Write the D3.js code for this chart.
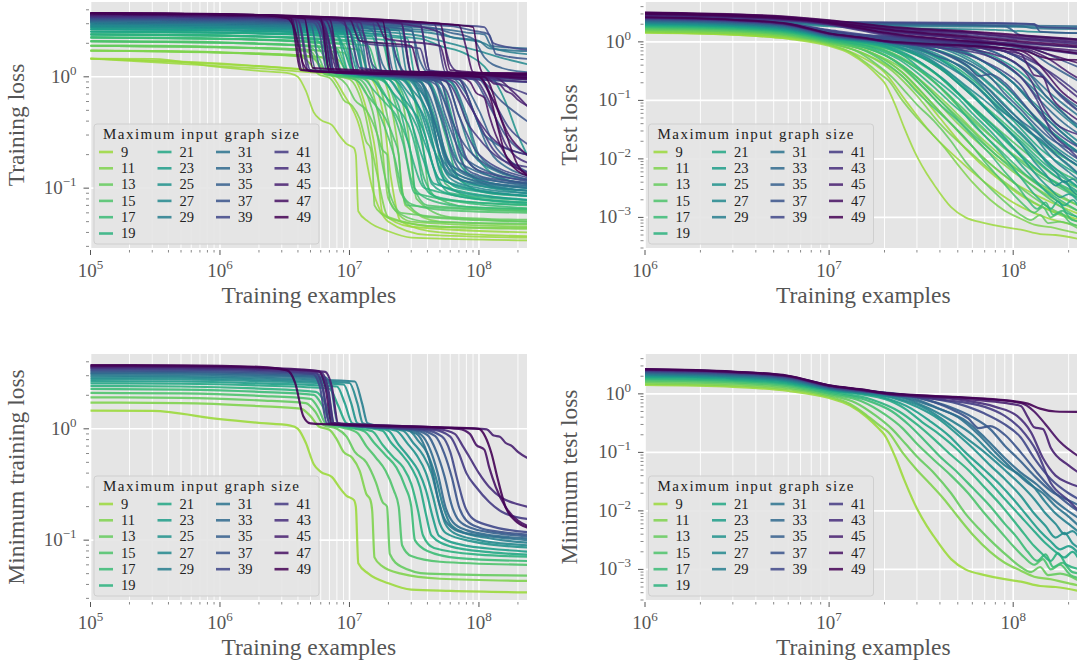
<!DOCTYPE html>
<html><head><meta charset="utf-8">
<script src="https://cdn.jsdelivr.net/npm/d3@7"></script>
<style>
body{margin:0;background:#fff}
svg{display:block}
text{font-family:"Liberation Serif","Times New Roman",serif}
</style>
</head><body>
<svg id="c" width="1077" height="666"></svg>
<script>
// ---------------- DATA ----------------
const sizes = [9,11,13,15,17,19,21,23,25,27,29,31,33,35,37,39,41,43,45,47,49];
const legendTitle = "Maximum input graph size";
const xLabel = "Training examples";
const yLabels = ["Training loss","Test loss","Minimum training loss","Minimum test loss"];
const xDomainLeft = [1e5, 2.35e8];
const xDomainRight = [1e6, 2.35e8];
const yDomainLeft = [0.029, 4.7];
const yDomainRight = [3e-4, 4.8];

// Minimum training loss, one curve per size: [training examples, loss]
const minTrainLoss = [
 [[1e5,1.46],[3e5,1.45],[1e6,1.22],[2e6,1.13],[3.5e6,1.07],[4e6,1.0],[4.6e6,0.75],[5.3e6,0.48],[6e6,0.41],[7.3e6,0.37],[8.5e6,0.29],[9.5e6,0.25],[1.08e7,0.23],[1.12e7,0.2],[1.17e7,0.062],[1.4e7,0.05],[2e7,0.041],[3e7,0.036],[6e7,0.035],[2.35e8,0.034]],
 [[1e5,1.72],[5e5,1.7],[2e6,1.6],[4.2e6,1.52],[5e6,1.3],[5.8e6,1.05],[7e6,0.98],[8e6,0.8],[9e6,0.62],[1.05e7,0.55],[1.2e7,0.42],[1.35e7,0.26],[1.45e7,0.23],[1.5e7,0.18],[1.56e7,0.07],[1.8e7,0.058],[2.5e7,0.05],[5e7,0.045],[2.35e8,0.043]],
 [[1e5,1.92],[5e5,1.9],[2e6,1.8],[4.6e6,1.7],[5.5e6,1.4],[6.3e6,1.08],[8e6,1.0],[9.5e6,0.85],[1.1e7,0.62],[1.35e7,0.5],[1.6e7,0.33],[1.8e7,0.22],[1.95e7,0.2],[2.05e7,0.075],[2.5e7,0.058],[4e7,0.05],[2.35e8,0.048]],
 [[1e5,2.1],[5e5,2.08],[2e6,1.98],[5e6,1.86],[5.8e6,1.5],[6.6e6,1.1],[9e6,1.02],[1.15e7,0.92],[1.35e7,0.7],[1.6e7,0.55],[1.9e7,0.42],[2.2e7,0.28],[2.4e7,0.2],[2.55e7,0.09],[3e7,0.072],[5e7,0.064],[2.35e8,0.06]],
 [[1e5,2.28],[5e5,2.25],[2e6,2.15],[5.3e6,2.02],[6.2e6,1.6],[7.2e6,1.12],[1e7,1.02],[1.3e7,0.95],[1.55e7,0.75],[1.9e7,0.58],[2.3e7,0.45],[2.7e7,0.3],[3e7,0.2],[3.2e7,0.1],[4e7,0.08],[7e7,0.069],[2.35e8,0.065]],
 [[1e5,2.42],[5e5,2.4],[2e6,2.3],[5.5e6,2.15],[6.5e6,1.7],[7.5e6,1.12],[1.1e7,1.02],[1.5e7,0.95],[1.8e7,0.72],[2.2e7,0.55],[2.6e7,0.45],[3e7,0.32],[3.4e7,0.18],[3.7e7,0.11],[4.5e7,0.085],[1e8,0.074],[2.35e8,0.071]],
 [[1e5,2.56],[5e5,2.54],[2e6,2.45],[7e6,2.3],[8.2e6,1.6],[9.5e6,1.12],[1.3e7,1.03],[1.8e7,0.96],[2.1e7,0.75],[2.5e7,0.6],[3e7,0.45],[3.5e7,0.3],[3.9e7,0.17],[4.3e7,0.11],[6e7,0.088],[1.2e8,0.078],[2.35e8,0.074]],
 [[1e5,2.68],[5e5,2.66],[2e6,2.56],[8e6,2.4],[9.2e6,1.7],[1.05e7,1.12],[1.5e7,1.03],[2e7,0.96],[2.4e7,0.72],[2.9e7,0.55],[3.4e7,0.42],[3.9e7,0.28],[4.4e7,0.16],[4.9e7,0.11],[7e7,0.092],[1.5e8,0.082],[2.35e8,0.079]],
 [[1e5,2.8],[5e5,2.78],[2e6,2.68],[9e6,2.5],[1.03e7,1.7],[1.15e7,1.12],[1.6e7,1.03],[2.3e7,0.96],[2.8e7,0.74],[3.3e7,0.58],[3.9e7,0.4],[4.4e7,0.25],[5e7,0.14],[5.6e7,0.115],[9e7,0.097],[2.35e8,0.086]],
 [[1e5,2.9],[5e5,2.88],[2e6,2.78],[1e7,2.58],[1.15e7,1.7],[1.27e7,1.12],[1.8e7,1.03],[2.6e7,0.96],[3.1e7,0.75],[3.7e7,0.58],[4.3e7,0.4],[4.9e7,0.22],[5.5e7,0.14],[6.5e7,0.115],[1e8,0.1],[2.35e8,0.09]],
 [[1e5,3.0],[5e5,2.98],[2e6,2.88],[1.1e7,2.66],[1.25e7,1.7],[1.38e7,1.12],[2e7,1.03],[2.9e7,0.96],[3.4e7,0.78],[4e7,0.6],[4.6e7,0.38],[5.3e7,0.2],[6e7,0.14],[7.5e7,0.118],[1.2e8,0.104],[2.35e8,0.095]],
 [[1e5,3.1],[5e5,3.08],[2e6,2.98],[6e6,2.85],[6.8e6,2.2],[7.6e6,1.12],[1.2e7,1.05],[2.5e7,1.0],[3.3e7,0.9],[3.8e7,0.7],[4.3e7,0.45],[4.9e7,0.22],[5.5e7,0.15],[7e7,0.12],[1.2e8,0.108],[2.35e8,0.1]],
 [[1e5,3.18],[5e5,3.16],[2e6,3.06],[6.5e6,2.9],[7.3e6,2.2],[8.1e6,1.12],[1.3e7,1.05],[2.8e7,1.0],[3.6e7,0.88],[4.2e7,0.65],[4.8e7,0.4],[5.5e7,0.2],[6.3e7,0.145],[8e7,0.123],[1.3e8,0.11],[2.35e8,0.104]],
 [[1e5,3.26],[5e5,3.24],[2e6,3.14],[5.5e6,3.0],[6.2e6,2.3],[7e6,1.12],[1.2e7,1.05],[3e7,0.99],[4e7,0.88],[4.7e7,0.62],[5.4e7,0.38],[6.2e7,0.2],[7e7,0.15],[9e7,0.127],[1.4e8,0.115],[2.35e8,0.108]],
 [[1e5,3.34],[5e5,3.32],[2e6,3.22],[6e6,3.06],[6.7e6,2.3],[7.5e6,1.12],[1.3e7,1.05],[3.4e7,0.98],[4.6e7,0.86],[5.4e7,0.6],[6.2e7,0.36],[7e7,0.2],[8e7,0.15],[1e8,0.13],[1.5e8,0.118],[2.35e8,0.112]],
 [[1e5,3.42],[5e5,3.4],[2e6,3.3],[5.2e6,3.12],[5.9e6,2.4],[6.7e6,1.12],[1.2e7,1.05],[3.8e7,0.98],[5.2e7,0.85],[6e7,0.62],[6.8e7,0.35],[7.8e7,0.2],[9e7,0.155],[1.2e8,0.135],[2.35e8,0.118]],
 [[1e5,3.5],[5e5,3.48],[2e6,3.38],[5.5e6,3.18],[6.2e6,2.4],[7e6,1.12],[1.3e7,1.06],[4.5e7,0.98],[6e7,0.85],[7e7,0.6],[8e7,0.4],[9.5e7,0.3],[1.2e8,0.22],[1.5e8,0.18],[2.35e8,0.155]],
 [[1e5,3.56],[5e5,3.54],[2e6,3.44],[6e6,3.22],[6.8e6,2.4],[7.6e6,1.12],[1.5e7,1.06],[5e7,0.99],[6.5e7,0.9],[7.5e7,0.7],[8.5e7,0.55],[1e8,0.4],[1.2e8,0.3],[1.5e8,0.24],[2e8,0.21],[2.35e8,0.2]],
 [[1e5,3.62],[5e5,3.6],[2e6,3.5],[6.5e6,3.25],[7.3e6,2.4],[8.2e6,1.12],[2e7,1.07],[6e7,1.02],[1e8,1.0],[1.15e8,0.99],[1.3e8,0.87],[1.45e8,0.85],[1.6e8,0.75],[1.8e8,0.7],[2e8,0.62],[2.35e8,0.55]],
 [[1e5,3.68],[5e5,3.66],[2e6,3.55],[5.8e6,3.3],[6.5e6,2.4],[7.3e6,1.12],[2e7,1.07],[7e7,1.0],[8.5e7,0.9],[9.5e7,0.72],[1.1e8,0.65],[1.2e8,0.45],[1.35e8,0.3],[1.6e8,0.2],[2e8,0.15],[2.35e8,0.135]],
 [[1e5,3.74],[5e5,3.72],[2e6,3.6],[3.3e6,3.35],[3.8e6,2.6],[4.4e6,1.3],[5e6,1.12],[1e7,1.08],[5e7,1.03],[1e8,1.0],[1.12e8,0.85],[1.25e8,0.6],[1.4e8,0.35],[1.6e8,0.2],[1.9e8,0.15],[2.35e8,0.13]]
];

// Further training-loss runs per size
const trainLossRuns = [
 [[[1e5,1.46],[1e6,1.25],[4e6,1.12],[7e6,1.05],[9e6,0.7],[1.2e7,0.35],[1.5e7,0.1],[2e7,0.05],[4e7,0.038],[2.35e8,0.036]],
  [[1e5,1.46],[1e6,1.3],[5e6,1.15],[1e7,1.05],[1.3e7,0.6],[1.6e7,0.2],[1.8e7,0.06],[3e7,0.045],[2.35e8,0.04]],
  [[1e5,1.46],[1e6,1.32],[7e6,1.1],[1.4e7,1.0],[1.8e7,0.5],[2.1e7,0.12],[2.5e7,0.05],[5e7,0.04],[2.35e8,0.037]]],
 [[[1e5,1.72],[2e6,1.6],[5e6,1.5],[7e6,1.05],[1e7,0.95],[1.3e7,0.5],[1.6e7,0.15],[2e7,0.055],[5e7,0.045],[2.35e8,0.044]],
  [[1e5,1.72],[2e6,1.62],[6e6,1.5],[8e6,1.05],[1.3e7,0.98],[1.7e7,0.4],[2e7,0.08],[3e7,0.05],[2.35e8,0.045]],
  [[1e5,1.72],[2e6,1.62],[8e6,1.45],[1e7,1.05],[1.8e7,0.95],[2.3e7,0.3],[2.7e7,0.07],[5e7,0.05],[2.35e8,0.047]]],
 [[[1e5,1.9],[2e6,1.8],[5e6,1.7],[6.5e6,1.05],[1.1e7,0.95],[1.5e7,0.5],[1.9e7,0.12],[2.5e7,0.06],[2.35e8,0.05]],
  [[1e5,1.9],[2e6,1.82],[7e6,1.68],[9e6,1.05],[1.6e7,0.95],[2e7,0.4],[2.5e7,0.09],[4e7,0.055],[2.35e8,0.05]],
  [[1e5,1.9],[2e6,1.82],[9e6,1.65],[1.1e7,1.05],[2.2e7,0.95],[2.8e7,0.35],[3.3e7,0.08],[6e7,0.055],[2.35e8,0.052]]],
 [[[1e5,2.08],[2e6,1.98],[6e6,1.85],[7e6,1.05],[1.2e7,0.95],[1.6e7,0.55],[2.2e7,0.2],[2.8e7,0.07],[2.35e8,0.062]],
  [[1e5,2.08],[2e6,1.98],[8e6,1.8],[1e7,1.05],[1.8e7,0.95],[2.4e7,0.45],[3e7,0.12],[4e7,0.07],[2.35e8,0.063]],
  [[1e5,2.08],[2e6,2.0],[1.2e7,1.75],[1.4e7,1.05],[2.8e7,0.92],[3.6e7,0.3],[4.2e7,0.09],[8e7,0.068],[2.35e8,0.065]]],
 [[[1e5,2.25],[2e6,2.15],[6e6,2.0],[8e6,1.05],[1.5e7,0.95],[2e7,0.6],[2.6e7,0.25],[3.2e7,0.09],[2.35e8,0.066]],
  [[1e5,2.25],[2e6,2.16],[9e6,1.95],[1.1e7,1.05],[2.2e7,0.95],[3e7,0.4],[3.8e7,0.12],[5e7,0.08],[2.35e8,0.07]],
  [[1e5,2.25],[2e6,2.17],[1.4e7,1.9],[1.7e7,1.05],[3.5e7,0.92],[4.5e7,0.35],[5.5e7,0.11],[1e8,0.08],[2.35e8,0.075]]],
 [[[1e5,2.4],[2e6,2.3],[7e6,2.15],[9e6,1.05],[1.7e7,0.95],[2.4e7,0.55],[3e7,0.2],[3.8e7,0.1],[2.35e8,0.072]],
  [[1e5,2.4],[2e6,2.3],[1.1e7,2.05],[1.3e7,1.05],[2.6e7,0.95],[3.5e7,0.45],[4.5e7,0.15],[6e7,0.09],[2.35e8,0.078]],
  [[1e5,2.4],[2e6,2.32],[1.8e7,2.0],[2.1e7,1.05],[4e7,0.92],[5.5e7,0.3],[7e7,0.12],[1.2e8,0.09],[2.35e8,0.085]]],
 [[[1e5,2.55],[2e6,2.45],[8e6,2.3],[1e7,1.05],[2e7,0.95],[2.8e7,0.5],[3.6e7,0.2],[4.5e7,0.11],[2.35e8,0.078]],
  [[1e5,2.55],[2e6,2.46],[1.3e7,2.2],[1.6e7,1.05],[3e7,0.95],[4e7,0.4],[5e7,0.15],[7e7,0.1],[2.35e8,0.085]],
  [[1e5,2.55],[2e6,2.47],[2.2e7,2.1],[2.6e7,1.05],[5e7,0.9],[6.5e7,0.35],[8e7,0.14],[1.4e8,0.1],[2.35e8,0.095]]],
 [[[1e5,2.68],[2e6,2.58],[9e6,2.4],[1.1e7,1.05],[2.2e7,0.95],[3e7,0.55],[4e7,0.22],[5e7,0.12],[2.35e8,0.085]],
  [[1e5,2.68],[2e6,2.6],[1.5e7,2.3],[1.8e7,1.05],[3.5e7,0.93],[4.5e7,0.45],[6e7,0.16],[8e7,0.11],[2.35e8,0.095]],
  [[1e5,2.68],[2e6,2.6],[2.8e7,2.2],[3.2e7,1.05],[6e7,0.9],[8e7,0.4],[1e8,0.18],[1.6e8,0.12],[2.35e8,0.11]]],
 [[[1e5,2.8],[2e6,2.7],[1e7,2.5],[1.2e7,1.05],[2.5e7,0.95],[3.4e7,0.55],[4.5e7,0.22],[6e7,0.13],[2.35e8,0.09]],
  [[1e5,2.8],[2e6,2.72],[1.8e7,2.4],[2.1e7,1.05],[4e7,0.93],[5.5e7,0.4],[7e7,0.17],[1e8,0.12],[2.35e8,0.1]],
  [[1e5,2.8],[2e6,2.72],[3.5e7,2.2],[5e7,1.9],[8e7,1.6],[1.2e8,1.1],[1.6e8,0.6],[2e8,0.3],[2.35e8,0.2]]],
 [[[1e5,2.9],[2e6,2.8],[1.1e7,2.6],[1.3e7,1.05],[2.8e7,0.95],[3.8e7,0.55],[5e7,0.2],[7e7,0.13],[2.35e8,0.095]],
  [[1e5,2.9],[2e6,2.82],[2e7,2.5],[2.4e7,1.05],[4.5e7,0.93],[6e7,0.45],[8e7,0.18],[1.2e8,0.13],[2.35e8,0.11]],
  [[1e5,2.9],[2e6,2.82],[3e7,2.4],[6e7,2.0],[1e8,1.7],[1.6e8,1.45],[2.35e8,1.3]]],
 [[[1e5,3.0],[2e6,2.9],[1.2e7,2.7],[1.4e7,1.05],[3e7,0.95],[4.2e7,0.5],[5.5e7,0.2],[8e7,0.13],[2.35e8,0.1]],
  [[1e5,3.0],[2e6,2.92],[2.4e7,2.6],[2.8e7,1.05],[5.5e7,0.92],[7e7,0.45],[9e7,0.2],[1.4e8,0.14],[2.35e8,0.12]],
  [[1e5,3.0],[2e6,2.92],[4e7,2.5],[7e7,2.2],[1.1e8,2.0],[1.3e8,1.8],[2.35e8,1.6]]],
 [[[1e5,3.1],[2e6,3.0],[6e6,2.85],[7.5e6,1.1],[2e7,1.0],[3.5e7,0.9],[4.5e7,0.4],[6e7,0.16],[2.35e8,0.105]],
  [[1e5,3.1],[2e6,3.02],[2.5e7,2.7],[3e7,1.05],[6e7,0.92],[8e7,0.45],[1e8,0.2],[1.5e8,0.14],[2.35e8,0.12]],
  [[1e5,3.1],[2e6,3.02],[4.5e7,2.6],[6e7,2.3],[1e8,2.1],[1.2e8,1.8],[1.5e8,1.75],[2.35e8,1.7]],
  [[1e5,3.1],[2e6,3.02],[1e7,2.8],[2e7,2.6],[2.3e7,1.5],[2.6e7,1.1],[2.35e8,0.95]]],
 [[[1e5,3.18],[2e6,3.08],[7e6,2.9],[8.5e6,1.1],[2.5e7,1.0],[4e7,0.9],[5e7,0.45],[7e7,0.17],[2.35e8,0.11]],
  [[1e5,3.18],[2e6,3.1],[3e7,2.8],[3.5e7,1.1],[7e7,0.95],[9e7,0.5],[1.2e8,0.22],[1.7e8,0.15],[2.35e8,0.13]],
  [[1e5,3.18],[2e6,3.1],[5e7,2.7],[8e7,2.5],[1.1e8,2.4],[1.25e8,1.9],[2.35e8,1.8]],
  [[1e5,3.18],[2e6,3.1],[1.2e7,2.85],[1.5e7,2.6],[1.8e7,1.3],[2e7,1.1],[6e7,1.0],[8e7,0.7],[1.1e8,0.3],[2.35e8,0.2]]],
 [[[1e5,3.26],[2e6,3.15],[5e6,3.0],[6e6,1.15],[2e7,1.02],[4.5e7,0.92],[5.5e7,0.45],[8e7,0.18],[2.35e8,0.115]],
  [[1e5,3.26],[2e6,3.18],[1.8e7,2.9],[2.2e7,1.1],[7e7,0.95],[1e8,0.5],[1.3e8,0.25],[1.8e8,0.17],[2.35e8,0.14]],
  [[1e5,3.26],[2e6,3.18],[4e7,2.8],[6e7,2.5],[9e7,2.2],[1.1e8,1.5],[1.5e8,1.2],[2.35e8,1.1]],
  [[1e5,3.26],[2e6,3.18],[1.5e7,2.9],[3e7,2.6],[3.5e7,1.4],[4e7,1.1],[2.35e8,0.9]]],
 [[[1e5,3.34],[2e6,3.22],[6e6,3.05],[7e6,1.15],[2.5e7,1.02],[5e7,0.92],[6e7,0.45],[9e7,0.2],[2.35e8,0.12]],
  [[1e5,3.34],[2e6,3.25],[3.5e7,2.9],[4.2e7,1.1],[9e7,0.95],[1.2e8,0.55],[1.6e8,0.3],[2.35e8,0.2]],
  [[1e5,3.34],[2e6,3.25],[6e7,2.85],[9e7,2.6],[1.2e8,2.4],[1.35e8,1.6],[2.35e8,1.45]],
  [[1e5,3.34],[2e6,3.25],[1e7,3.0],[1.3e7,2.4],[1.5e7,1.3],[1.8e7,1.1],[1e8,0.95],[1.5e8,0.6],[2.35e8,0.4]]],
 [[[1e5,3.42],[2e6,3.3],[4.5e6,3.1],[5.5e6,1.15],[2e7,1.03],[5.5e7,0.93],[7e7,0.45],[1e8,0.2],[2.35e8,0.125]],
  [[1e5,3.42],[2e6,3.32],[2.5e7,3.0],[3e7,1.1],[1e8,0.95],[1.3e8,0.6],[1.7e8,0.35],[2.35e8,0.25]],
  [[1e5,3.42],[2e6,3.32],[7e7,2.9],[1.1e8,2.8],[1.3e8,2.0],[2.35e8,1.75]],
  [[1e5,3.42],[2e6,3.32],[1.2e7,3.05],[2e7,2.7],[2.3e7,1.5],[2.7e7,1.1],[2.35e8,0.9]]],
 [[[1e5,3.5],[2e6,3.38],[4e6,3.2],[5e6,1.15],[2e7,1.04],[7e7,0.95],[9e7,0.5],[1.3e8,0.22],[2.35e8,0.14]],
  [[1e5,3.5],[2e6,3.4],[1.5e7,3.1],[1.8e7,1.1],[1e8,0.98],[1.5e8,0.85],[2.35e8,0.7]],
  [[1e5,3.5],[2e6,3.4],[4.5e7,3.0],[5.5e7,1.1],[2.35e8,0.95]],
  [[1e5,3.5],[2e6,3.4],[8e6,3.2],[1e7,2.6],[1.2e7,1.2],[2.35e8,0.95]],
  [[1e5,3.5],[2e6,3.4],[1.1e7,3.2],[1.3e7,2.0],[3.5e7,1.8],[4e7,1.15],[2.35e8,1.0]]],
 [[[1e5,3.56],[2e6,3.42],[4e6,3.25],[4.8e6,1.15],[3e7,1.04],[9e7,0.97],[1.2e8,0.6],[1.6e8,0.25],[2.35e8,0.17]],
  [[1e5,3.56],[2e6,3.45],[1.2e7,3.1],[1.5e7,1.1],[2.35e8,0.98]],
  [[1e5,3.56],[2e6,3.45],[3.5e7,3.0],[4.2e7,1.12],[2.35e8,1.0]],
  [[1e5,3.56],[2e6,3.45],[2e7,3.1],[3e7,2.9],[5e7,2.5],[6e7,1.3],[7e7,1.1],[2.35e8,0.9]]],
 [[[1e5,3.62],[2e6,3.48],[3.8e6,3.3],[4.5e6,1.15],[3e7,1.05],[1.3e8,1.0],[1.8e8,0.75],[2.35e8,0.55]],
  [[1e5,3.62],[2e6,3.5],[9e6,3.2],[1.1e7,1.12],[2.35e8,1.02]],
  [[1e5,3.62],[2e6,3.5],[2.5e7,3.05],[3e7,1.12],[2.35e8,1.05]],
  [[1e5,3.62],[2e6,3.5],[6e6,3.3],[7e6,2.0],[8e6,1.15],[2.35e8,1.0]],
  [[1e5,3.62],[2e6,3.5],[1.6e7,3.15],[1.9e7,2.2],[5e7,1.9],[5.8e7,1.1],[2.35e8,0.98]]],
 [[[1e5,3.68],[2e6,3.52],[3.6e6,3.35],[4.3e6,1.15],[3e7,1.05],[1e8,1.0],[1.3e8,0.6],[1.7e8,0.3],[2.35e8,0.2]],
  [[1e5,3.68],[2e6,3.55],[7e6,3.3],[8.5e6,1.12],[2.35e8,1.03]],
  [[1e5,3.68],[2e6,3.55],[5e7,3.0],[6e7,1.15],[2.35e8,1.05]],
  [[1e5,3.68],[2e6,3.55],[3e7,3.1],[7e7,2.9],[8e7,1.8],[9e7,1.1],[2.35e8,0.95]],
  [[1e5,3.68],[2e6,3.55],[1e7,3.3],[1.2e7,2.1],[3e7,1.9],[3.5e7,1.1],[2.35e8,1.0]]],
 [[[1e5,3.74],[2e6,3.58],[3.5e6,3.4],[4.2e6,1.15],[3e7,1.05],[1.1e8,1.0],[1.5e8,0.4],[2e8,0.16],[2.35e8,0.13]],
  [[1e5,3.74],[2e6,3.6],[6e6,3.35],[7e6,1.12],[2.35e8,1.04]],
  [[1e5,3.74],[2e6,3.6],[1.8e7,3.2],[2.1e7,1.12],[2.35e8,1.08]],
  [[1e5,3.74],[2e6,3.6],[3e7,3.15],[5e7,3.0],[9e7,2.8],[1e8,1.3],[1.1e8,1.05],[2.35e8,0.98]],
  [[1e5,3.74],[2e6,3.6],[4.5e6,3.35],[5.2e6,1.2],[2.35e8,1.06]]]
];

// Minimum test loss, one curve per size
const minTestLoss = [
 [[1e6,1.42],[3e6,1.32],[6e6,1.12],[1e7,0.85],[1.3e7,0.63],[1.6e7,0.4],[1.85e7,0.26],[2e7,0.2],[2.3e7,0.08],[2.55e7,0.035],[3e7,0.011],[3.4e7,0.0055],[3.7e7,0.0037],[4.6e7,0.0015],[5.5e7,0.001],[7e7,0.0008],[9e7,0.00068],[1.1e8,0.00062],[1.4e8,0.00052],[1.7e8,0.0005],[2.35e8,0.00042]],
 [[1e6,1.5],[3e6,1.4],[6e6,1.2],[1e7,0.9],[1.3e7,0.67],[1.6e7,0.43],[1.9e7,0.28],[2.1e7,0.22],[2.5e7,0.1],[3e7,0.05],[3.5e7,0.03],[4.2e7,0.016],[5e7,0.008],[6e7,0.004],[7.5e7,0.002],[9e7,0.0013],[1.1e8,0.00095],[1.3e8,0.00075],[1.6e8,0.00068],[1.9e8,0.0006],[2.35e8,0.00052]],
 [[1e6,1.6],[3e6,1.5],[6e6,1.28],[1e7,0.95],[1.4e7,0.7],[1.8e7,0.42],[2.2e7,0.25],[2.6e7,0.14],[3e7,0.085],[3.7e7,0.045],[4.6e7,0.02],[5.5e7,0.009],[6.5e7,0.005],[8e7,0.0026],[9.5e7,0.0016],[1.1e8,0.0011],[1.25e8,0.0009],[1.4e8,0.0011],[1.55e8,0.0008],[1.8e8,0.00085],[2.35e8,0.0006]],
 [[1e6,1.7],[3e6,1.58],[6e6,1.35],[1e7,1.0],[1.5e7,0.75],[2e7,0.45],[2.5e7,0.26],[3e7,0.14],[3.7e7,0.075],[4.6e7,0.04],[5.7e7,0.02],[7e7,0.009],[8.5e7,0.0045],[1e8,0.0025],[1.15e8,0.0016],[1.3e8,0.0012],[1.45e8,0.0015],[1.6e8,0.001],[1.8e8,0.0012],[2.05e8,0.0008],[2.35e8,0.0007]],
 [[1e6,1.78],[3e6,1.66],[6e6,1.42],[1e7,1.05],[1.6e7,0.78],[2.2e7,0.5],[2.7e7,0.3],[3.3e7,0.16],[4e7,0.085],[5e7,0.045],[6e7,0.025],[7.5e7,0.012],[9e7,0.006],[1.05e8,0.0035],[1.2e8,0.002],[1.35e8,0.0014],[1.5e8,0.0018],[1.65e8,0.0011],[1.85e8,0.0013],[2.1e8,0.0009],[2.35e8,0.00085]],
 [[1e6,1.86],[3e6,1.73],[6e6,1.48],[1e7,1.1],[1.7e7,0.8],[2.4e7,0.5],[3e7,0.3],[3.7e7,0.17],[4.6e7,0.09],[5.7e7,0.05],[7e7,0.025],[8.5e7,0.013],[1e8,0.007],[1.15e8,0.004],[1.3e8,0.0025],[1.45e8,0.0018],[1.6e8,0.0014],[1.75e8,0.0019],[1.95e8,0.0012],[2.35e8,0.001]],
 [[1e6,1.94],[3e6,1.8],[6e6,1.54],[1e7,1.15],[2e7,0.82],[2.6e7,0.55],[3.2e7,0.33],[4e7,0.2],[5e7,0.11],[6e7,0.06],[7.5e7,0.03],[9e7,0.016],[1.1e8,0.008],[1.3e8,0.0045],[1.5e8,0.0028],[1.7e8,0.002],[1.9e8,0.0016],[2.1e8,0.002],[2.35e8,0.0012]],
 [[1e6,2.0],[3e6,1.86],[6e6,1.6],[1e7,1.18],[2e7,0.86],[2.8e7,0.56],[3.5e7,0.35],[4.5e7,0.19],[5.5e7,0.1],[7e7,0.05],[8.5e7,0.028],[1e8,0.016],[1.2e8,0.008],[1.4e8,0.0045],[1.6e8,0.003],[1.8e8,0.0022],[2e8,0.0025],[2.35e8,0.0016]],
 [[1e6,2.06],[3e6,1.92],[6e6,1.65],[1e7,1.2],[2.2e7,0.86],[3e7,0.6],[4e7,0.36],[5e7,0.2],[6e7,0.12],[7.5e7,0.06],[9e7,0.035],[1.1e8,0.018],[1.3e8,0.009],[1.5e8,0.0055],[1.7e8,0.0035],[1.9e8,0.0042],[2.1e8,0.0028],[2.35e8,0.0022]],
 [[1e6,2.12],[3e6,1.97],[6e6,1.7],[1e7,1.22],[2.3e7,0.86],[3.2e7,0.6],[4.5e7,0.3],[5.5e7,0.18],[7e7,0.1],[9e7,0.05],[1.1e8,0.028],[1.3e8,0.016],[1.5e8,0.009],[1.7e8,0.006],[1.9e8,0.004],[2.1e8,0.0045],[2.35e8,0.003]],
 [[1e6,2.18],[3e6,2.02],[6e6,1.74],[1e7,1.24],[2.5e7,0.86],[3.5e7,0.56],[4.6e7,0.35],[6e7,0.2],[7.5e7,0.1],[9e7,0.06],[1.1e8,0.04],[1.3e8,0.025],[1.5e8,0.014],[1.7e8,0.009],[2e8,0.006],[2.35e8,0.004]],
 [[1e6,2.24],[3e6,2.07],[6e6,1.78],[1e7,1.26],[2.6e7,0.86],[3.7e7,0.6],[5e7,0.4],[6.5e7,0.2],[8e7,0.1],[1e8,0.05],[1.2e8,0.03],[1.45e8,0.02],[1.7e8,0.012],[2e8,0.008],[2.35e8,0.005]],
 [[1e6,2.3],[3e6,2.12],[6e6,1.82],[1e7,1.28],[2.8e7,0.86],[4e7,0.55],[5.5e7,0.35],[7e7,0.18],[9e7,0.08],[1.1e8,0.045],[1.35e8,0.028],[1.6e8,0.017],[1.9e8,0.011],[2.35e8,0.007]],
 [[1e6,2.36],[3e6,2.17],[6e6,1.86],[1e7,1.3],[3e7,0.86],[4.5e7,0.6],[6e7,0.4],[7.5e7,0.25],[9e7,0.13],[1.1e8,0.07],[1.3e8,0.04],[1.6e8,0.022],[2e8,0.015],[2.35e8,0.012]],
 [[1e6,2.42],[3e6,2.22],[6e6,1.9],[1e7,1.32],[3e7,0.88],[4.6e7,0.55],[5.7e7,0.38],[6.5e7,0.26],[7.5e7,0.28],[9e7,0.2],[1.1e8,0.1],[1.35e8,0.045],[1.7e8,0.02],[2.35e8,0.009]],
 [[1e6,2.48],[3e6,2.27],[6e6,1.93],[1e7,1.34],[3e7,0.9],[5e7,0.68],[7e7,0.46],[9e7,0.3],[1.1e8,0.18],[1.3e8,0.08],[1.6e8,0.035],[2e8,0.02],[2.35e8,0.015]],
 [[1e6,2.52],[3e6,2.3],[6e6,1.96],[1e7,1.36],[1.5e7,1.15],[2e7,1.0],[4e7,0.8],[7e7,0.6],[9e7,0.42],[1.1e8,0.25],[1.35e8,0.1],[1.6e8,0.03],[2e8,0.015],[2.35e8,0.009]],
 [[1e6,2.56],[3e6,2.33],[6e6,1.98],[1e7,1.37],[1.5e7,1.16],[2e7,1.01],[5e7,0.8],[8e7,0.6],[1.05e8,0.42],[1.25e8,0.22],[1.45e8,0.08],[1.7e8,0.04],[2e8,0.03],[2.35e8,0.025]],
 [[1e6,2.6],[3e6,2.36],[6e6,2.0],[1e7,1.38],[1.5e7,1.17],[2e7,1.02],[6e7,0.8],[9e7,0.7],[1.1e8,0.62],[1.2e8,0.4],[1.3e8,0.27],[1.45e8,0.25],[1.6e8,0.12],[2e8,0.06],[2.35e8,0.042]],
 [[1e6,2.62],[3e6,2.38],[6e6,2.02],[1e7,1.39],[1.5e7,1.18],[2e7,1.03],[7e7,0.82],[1.1e8,0.7],[1.3e8,0.5],[1.5e8,0.3],[1.8e8,0.15],[2.35e8,0.08]],
 [[1e6,2.65],[3e6,2.4],[6e6,2.04],[1e7,1.4],[1.5e7,1.19],[2e7,1.04],[3e7,0.95],[6e7,0.85],[1e8,0.75],[1.2e8,0.68],[1.4e8,0.56],[1.7e8,0.5],[2.35e8,0.49]]
];

// Further test-loss runs per size
const testLossRuns = [
 [[[1e6,1.45],[5e6,1.2],[1e7,0.9],[1.5e7,0.55],[2e7,0.3],[2.6e7,0.1],[3.5e7,0.03],[5e7,0.01],[7e7,0.004],[1e8,0.0018],[1.5e8,0.001],[2.35e8,0.0007]],
  [[1e6,1.48],[5e6,1.25],[1e7,0.95],[1.6e7,0.6],[2.2e7,0.35],[3e7,0.15],[4e7,0.05],[5.5e7,0.015],[8e7,0.005],[1.2e8,0.002],[2.35e8,0.0009]],
  [[1e6,1.5],[5e6,1.28],[1e7,1.0],[1.8e7,0.6],[2.5e7,0.3],[3.5e7,0.1],[5e7,0.03],[7e7,0.01],[1e8,0.004],[1.5e8,0.002],[2.35e8,0.0011]]],
 [[[1e6,1.55],[5e6,1.3],[1e7,0.95],[1.6e7,0.6],[2.2e7,0.32],[3e7,0.12],[4e7,0.04],[6e7,0.012],[9e7,0.004],[1.3e8,0.0018],[2.35e8,0.0008]],
  [[1e6,1.6],[5e6,1.35],[1e7,1.0],[1.7e7,0.65],[2.5e7,0.35],[3.5e7,0.13],[5e7,0.04],[7e7,0.015],[1e8,0.006],[1.5e8,0.0025],[2.35e8,0.0012]],
  [[1e6,1.62],[5e6,1.38],[1e7,1.02],[2e7,0.6],[3e7,0.25],[4.5e7,0.08],[6.5e7,0.025],[9e7,0.01],[1.3e8,0.004],[2.35e8,0.0015]]],
 [[[1e6,1.68],[5e6,1.4],[1e7,1.0],[1.7e7,0.65],[2.5e7,0.3],[3.5e7,0.1],[5e7,0.03],[7e7,0.01],[1e8,0.004],[1.5e8,0.0016],[2.35e8,0.0008]],
  [[1e6,1.7],[5e6,1.42],[1e7,1.05],[1.9e7,0.65],[2.8e7,0.3],[4e7,0.1],[6e7,0.03],[8e7,0.012],[1.2e8,0.005],[2.35e8,0.0015]],
  [[1e6,1.72],[5e6,1.45],[1e7,1.08],[2.2e7,0.65],[3.5e7,0.25],[5e7,0.08],[7e7,0.03],[1e8,0.012],[1.5e8,0.005],[2.35e8,0.0022]]],
 [[[1e6,1.78],[5e6,1.48],[1e7,1.05],[1.8e7,0.7],[2.8e7,0.3],[4e7,0.1],[5.5e7,0.035],[8e7,0.012],[1.1e8,0.005],[1.6e8,0.002],[2.35e8,0.0009]],
  [[1e6,1.8],[5e6,1.5],[1e7,1.1],[2e7,0.7],[3e7,0.35],[4.5e7,0.12],[6.5e7,0.04],[9e7,0.015],[1.3e8,0.006],[2.35e8,0.002]],
  [[1e6,1.82],[5e6,1.52],[1e7,1.12],[2.4e7,0.65],[4e7,0.25],[6e7,0.08],[8.5e7,0.03],[1.2e8,0.012],[1.7e8,0.005],[2.35e8,0.003]]],
 [[[1e6,1.88],[5e6,1.55],[1e7,1.1],[2e7,0.72],[3e7,0.35],[4.5e7,0.12],[6e7,0.04],[8.5e7,0.014],[1.2e8,0.005],[1.7e8,0.0022],[2.35e8,0.0012]],
  [[1e6,1.9],[5e6,1.58],[1e7,1.12],[2.2e7,0.72],[3.5e7,0.35],[5e7,0.13],[7e7,0.045],[1e8,0.016],[1.4e8,0.006],[2.35e8,0.0025]],
  [[1e6,1.92],[5e6,1.6],[1e7,1.15],[2.6e7,0.7],[4e7,0.35],[6e7,0.12],[9e7,0.04],[1.3e8,0.014],[1.8e8,0.006],[2.35e8,0.004]]],
 [[[1e6,1.98],[5e6,1.62],[1e7,1.15],[2.2e7,0.75],[3.5e7,0.35],[5e7,0.13],[7e7,0.045],[1e8,0.015],[1.4e8,0.006],[2.35e8,0.002]],
  [[1e6,2.0],[5e6,1.65],[1e7,1.18],[2.5e7,0.75],[4e7,0.35],[6e7,0.12],[8e7,0.05],[1.1e8,0.02],[1.5e8,0.008],[2.35e8,0.003]],
  [[1e6,2.02],[5e6,1.68],[1e7,1.2],[3e7,0.75],[5e7,0.35],[7e7,0.15],[1e8,0.05],[1.4e8,0.02],[2.35e8,0.007]]],
 [[[1e6,2.05],[5e6,1.7],[1e7,1.2],[2.5e7,0.78],[4e7,0.38],[6e7,0.13],[8e7,0.05],[1.1e8,0.018],[1.5e8,0.007],[2.35e8,0.0025]],
  [[1e6,2.08],[5e6,1.72],[1e7,1.22],[3e7,0.78],[4.5e7,0.4],[7e7,0.13],[1e8,0.045],[1.4e8,0.015],[2.35e8,0.005]],
  [[1e6,2.1],[5e6,1.75],[1e7,1.25],[3.5e7,0.78],[6e7,0.4],[9e7,0.15],[1.2e8,0.06],[1.7e8,0.025],[2.35e8,0.012]]],
 [[[1e6,2.12],[5e6,1.75],[1e7,1.25],[2.8e7,0.8],[4.5e7,0.4],[7e7,0.13],[9e7,0.05],[1.2e8,0.02],[1.6e8,0.008],[2.35e8,0.003]],
  [[1e6,2.15],[5e6,1.78],[1e7,1.28],[3.5e7,0.8],[5.5e7,0.4],[8e7,0.15],[1.1e8,0.06],[1.5e8,0.02],[2.35e8,0.007]],
  [[1e6,2.2],[5e6,1.82],[1e7,1.3],[4e7,0.85],[7e7,0.45],[1e8,0.2],[1.3e8,0.08],[1.8e8,0.03],[2.35e8,0.015]]],
 [[[1e6,2.2],[5e6,1.8],[1e7,1.28],[3e7,0.82],[5e7,0.4],[7.5e7,0.15],[1e8,0.06],[1.3e8,0.025],[1.8e8,0.01],[2.35e8,0.005]],
  [[1e6,2.25],[5e6,1.85],[1e7,1.3],[4e7,0.82],[6.5e7,0.42],[9e7,0.18],[1.2e8,0.07],[1.6e8,0.03],[2.35e8,0.012]],
  [[1e6,2.3],[5e6,1.9],[1e7,1.35],[5e7,0.9],[8e7,0.55],[1.1e8,0.3],[1.5e8,0.12],[2e8,0.05],[2.35e8,0.03]]],
 [[[1e6,2.25],[5e6,1.85],[1e7,1.3],[3.2e7,0.85],[5.5e7,0.42],[8e7,0.16],[1.1e8,0.06],[1.5e8,0.022],[2.35e8,0.008]],
  [[1e6,2.3],[5e6,1.9],[1e7,1.35],[4.5e7,0.85],[7e7,0.45],[1e8,0.2],[1.3e8,0.09],[1.8e8,0.035],[2.35e8,0.018]],
  [[1e6,2.35],[5e6,2.05],[1e7,1.85],[3e7,1.7],[8e7,1.6],[1.2e8,1.5],[1.6e8,1.45],[2.35e8,1.4]]],
 [[[1e6,2.3],[5e6,1.9],[1e7,1.35],[3.5e7,0.88],[6e7,0.45],[9e7,0.18],[1.2e8,0.07],[1.6e8,0.028],[2.35e8,0.012]],
  [[1e6,2.35],[5e6,1.95],[1e7,1.4],[5e7,0.9],[8e7,0.5],[1.1e8,0.25],[1.5e8,0.1],[2e8,0.045],[2.35e8,0.03]],
  [[1e6,2.4],[5e6,2.15],[1e7,1.95],[3e7,1.85],[1e8,1.8],[2.35e8,1.75]]],
 [[[1e6,2.35],[5e6,1.95],[1e7,1.38],[4e7,0.9],[7e7,0.45],[1e8,0.2],[1.3e8,0.08],[1.8e8,0.03],[2.35e8,0.015]],
  [[1e6,2.4],[5e6,2.0],[1e7,1.42],[5.5e7,0.92],[9e7,0.55],[1.2e8,0.3],[1.6e8,0.13],[2.35e8,0.05]],
  [[1e6,2.45],[5e6,2.2],[1e7,2.0],[5e7,1.9],[1.1e8,1.85],[1.3e8,1.7],[2.35e8,1.65]]],
 [[[1e6,2.4],[5e6,2.0],[1e7,1.42],[4.5e7,0.92],[8e7,0.5],[1.1e8,0.25],[1.4e8,0.1],[1.9e8,0.04],[2.35e8,0.025]],
  [[1e6,2.45],[5e6,2.05],[1e7,1.45],[6e7,0.95],[1e8,0.6],[1.3e8,0.35],[1.7e8,0.15],[2.35e8,0.07]],
  [[1e6,2.5],[5e6,2.25],[1e7,2.05],[6e7,1.95],[1.2e8,1.9],[2.35e8,1.85]]],
 [[[1e6,2.45],[5e6,2.05],[1e7,1.45],[5e7,0.95],[9e7,0.55],[1.2e8,0.3],[1.5e8,0.12],[2e8,0.05],[2.35e8,0.035]],
  [[1e6,2.5],[5e6,2.1],[1e7,1.5],[2e7,1.1],[8e7,0.9],[1.2e8,0.7],[1.6e8,0.4],[2.35e8,0.2]],
  [[1e6,2.55],[5e6,2.3],[1e7,2.1],[4e7,2.0],[9e7,1.85],[1.1e8,1.3],[2.35e8,1.1]]],
 [[[1e6,2.5],[5e6,2.1],[1e7,1.5],[5.5e7,0.95],[1e8,0.6],[1.3e8,0.35],[1.7e8,0.15],[2.35e8,0.06]],
  [[1e6,2.55],[5e6,2.15],[1e7,1.55],[2e7,1.15],[9e7,0.9],[1.3e8,0.75],[1.8e8,0.5],[2.35e8,0.35]],
  [[1e6,2.6],[5e6,2.35],[1e7,2.15],[7e7,2.05],[1.3e8,2.0],[1.4e8,1.5],[2.35e8,1.4]]],
 [[[1e6,2.55],[5e6,2.15],[1e7,1.55],[2e7,1.1],[6e7,0.9],[1e8,0.6],[1.4e8,0.3],[1.8e8,0.12],[2.35e8,0.06]],
  [[1e6,2.6],[5e6,2.2],[1e7,1.6],[2e7,1.2],[1e8,0.95],[2.35e8,0.8]],
  [[1e6,2.65],[5e6,2.4],[1e7,2.2],[8e7,2.1],[1.3e8,2.0],[1.4e8,1.8],[2.35e8,1.7]]],
 [[[1e6,2.7],[5e6,2.4],[1e7,1.95],[1.5e7,1.55],[2e7,1.3],[5e7,0.92],[8e7,0.75],[1.2e8,0.5],[1.6e8,0.3],[2.35e8,0.12]],
  [[1e6,2.8],[5e6,2.5],[1e7,2.05],[1.5e7,1.7],[2e7,1.5],[5e7,1.15],[1e8,0.88],[2.35e8,0.6]],
  [[1e6,2.9],[5e6,2.6],[1e7,2.15],[1.5e7,1.85],[2e7,1.65],[5e7,1.35],[1e8,1.12],[2.35e8,0.9]]],
 [[[1e6,2.8],[5e6,2.45],[1e7,2.0],[1.5e7,1.6],[2e7,1.35],[6e7,0.92],[1e8,0.7],[1.4e8,0.4],[1.8e8,0.2],[2.35e8,0.1]],
  [[1e6,2.9],[5e6,2.55],[1e7,2.1],[1.5e7,1.75],[2e7,1.55],[6e7,1.08],[1.2e8,0.8],[2.35e8,0.65]],
  [[1e6,3.0],[5e6,2.65],[1e7,2.2],[1.5e7,1.9],[2e7,1.7],[6e7,1.38],[1.2e8,1.15],[2.35e8,1.0]]],
 [[[1e6,2.9],[5e6,2.5],[1e7,2.05],[1.5e7,1.65],[2e7,1.4],[6e7,0.97],[1.1e8,0.8],[1.5e8,0.55],[2e8,0.3],[2.35e8,0.22]],
  [[1e6,3.0],[5e6,2.6],[1e7,2.15],[1.5e7,1.8],[2e7,1.6],[6e7,1.12],[1.2e8,0.85],[2.35e8,0.7]],
  [[1e6,3.1],[5e6,2.7],[1e7,2.25],[1.5e7,1.95],[2e7,1.75],[6e7,1.4],[1.2e8,1.12],[2.35e8,0.95]]],
 [[[1e6,2.95],[5e6,2.55],[1e7,2.08],[1.5e7,1.68],[2e7,1.42],[6e7,1.0],[1.2e8,0.8],[1.6e8,0.6],[2.35e8,0.42]],
  [[1e6,3.05],[5e6,2.65],[1e7,2.18],[1.5e7,1.82],[2e7,1.62],[6e7,1.18],[1.2e8,0.95],[2.35e8,0.8]],
  [[1e6,3.15],[5e6,2.75],[1e7,2.3],[1.5e7,2.0],[2e7,1.8],[6e7,1.45],[1.2e8,1.22],[2.35e8,1.05]]],
 [[[1e6,3.0],[5e6,2.6],[1e7,2.1],[1.5e7,1.7],[2e7,1.45],[6e7,1.02],[1.2e8,0.82],[2.35e8,0.62]],
  [[1e6,3.1],[5e6,2.7],[1e7,2.2],[1.5e7,1.85],[2e7,1.65],[6e7,1.22],[1.2e8,1.0],[2.35e8,0.85]],
  [[1e6,3.2],[5e6,2.8],[1e7,2.35],[1.5e7,2.05],[2e7,1.85],[6e7,1.5],[1.2e8,1.28],[2.35e8,1.1]]]
];

// ---------------- DRAWING ----------------
const svg = d3.select("#c");
const color = i => d3.interpolateViridis(0.85 * (sizes.length - 1 - i) / (sizes.length - 1));

function curvesTop(minArr, runs){
  const out = [];
  sizes.forEach((s,i) => {
    out.push({i, pts:minArr[i]});
    runs[i].forEach(r => out.push({i, pts:r}));
  });
  return out;
}
function curvesBottom(minArr){ return sizes.map((s,i)=>({i, pts:minArr[i]})); }

const panels = [
 {left:90.5, top:2,   w:436.5, h:246, xd:xDomainLeft,  yd:yDomainLeft,  ylab:yLabels[0], labX:24,  curves:curvesTop(minTrainLoss,trainLossRuns), lw:1.8, op:0.85},
 {left:645,  top:2,   w:436.5, h:246, xd:xDomainRight, yd:yDomainRight, ylab:yLabels[1], labX:577, curves:curvesTop(minTestLoss,testLossRuns),  lw:1.8, op:0.85},
 {left:90.5, top:354, w:436.5, h:246, xd:xDomainLeft,  yd:yDomainLeft,  ylab:yLabels[2], labX:24,  curves:curvesBottom(minTrainLoss), lw:2.2, op:0.9},
 {left:645,  top:354, w:436.5, h:246, xd:xDomainRight, yd:yDomainRight, ylab:yLabels[3], labX:577, curves:curvesBottom(minTestLoss),  lw:2.2, op:0.9}
];

const isMajor = t => Math.abs(Math.log10(t) - Math.round(Math.log10(t))) < 1e-9;
const supLabel = (sel, t) => {
  const e = Math.round(Math.log10(t));
  sel.append("tspan").text("10");
  sel.append("tspan").attr("dy", -8).attr("font-size", 13).text(e < 0 ? "\u2212" + (-e) : String(e));
};

panels.forEach((p, pi) => {
  const g = svg.append("g");
  const x = d3.scaleLog().domain(p.xd).range([p.left, p.left + p.w]);
  const y = d3.scaleLog().domain(p.yd).range([p.top + p.h, p.top]);
  const bottom = p.top + p.h;

  g.append("rect").attr("x", p.left).attr("y", p.top).attr("width", p.w).attr("height", p.h).attr("fill", "#e5e5e5");

  const xt = x.ticks().filter(t => t >= p.xd[0] && t <= p.xd[1]);
  const yt = y.ticks().filter(t => t >= p.yd[0] && t <= p.yd[1]);

  xt.forEach(t => {
    g.append("line").attr("x1", x(t)).attr("x2", x(t)).attr("y1", p.top).attr("y2", bottom)
      .attr("stroke", "#fff").attr("stroke-width", isMajor(t) ? 1.6 : 0.9);
  });
  yt.filter(isMajor).forEach(t => {
    g.append("line").attr("x1", p.left).attr("x2", p.left + p.w).attr("y1", y(t)).attr("y2", y(t))
      .attr("stroke", "#fff").attr("stroke-width", 1.6);
  });

  xt.forEach(t => {
    const m = isMajor(t);
    g.append("line").attr("x1", x(t)).attr("x2", x(t)).attr("y1", bottom + 2).attr("y2", bottom + (m ? 7 : 4.5))
      .attr("stroke", "#555").attr("stroke-width", m ? 1 : 0.7);
    if (m) {
      const tx = g.append("text").attr("x", x(t)).attr("y", bottom + 29).attr("text-anchor", "middle")
        .attr("font-size", 19).attr("fill", "#555");
      supLabel(tx, t);
    }
  });
  yt.forEach(t => {
    const m = isMajor(t);
    g.append("line").attr("x1", p.left - 1.5).attr("x2", p.left - (m ? 7 : 4.5)).attr("y1", y(t)).attr("y2", y(t))
      .attr("stroke", "#555").attr("stroke-width", m ? 1 : 0.7);
    if (m) {
      const tx = g.append("text").attr("x", p.left - 14).attr("y", y(t) + 6).attr("text-anchor", "end")
        .attr("font-size", 19).attr("fill", "#555");
      supLabel(tx, t);
    }
  });

  g.append("text").attr("x", p.left + p.w / 2).attr("y", bottom + 55).attr("text-anchor", "middle")
    .attr("font-size", 23.5).attr("fill", "#555").text(xLabel);
  g.append("text").attr("transform", `translate(${p.labX},${p.top + p.h / 2}) rotate(-90)`)
    .attr("text-anchor", "middle").attr("font-size", 23.5).attr("fill", "#555").text(p.ylab);

  const cid = "clip" + pi;
  svg.append("clipPath").attr("id", cid).append("rect")
    .attr("x", p.left).attr("y", p.top).attr("width", p.w).attr("height", p.h);
  const line = d3.line().x(d => x(d[0])).y(d => y(d[1])).curve(d3.curveMonotoneX);
  const lg = g.append("g").attr("clip-path", `url(#${cid})`);
  lg.selectAll("path").data(p.curves).join("path")
    .attr("d", d => line(d.pts)).attr("fill", "none")
    .attr("stroke", d => color(d.i)).attr("stroke-width", p.lw).attr("stroke-opacity", p.op)
    .attr("stroke-linejoin", "round").attr("stroke-linecap", "round");

  const bx = p.left + 3.5, by = bottom - 124;
  const leg = g.append("g");
  leg.append("rect").attr("x", bx).attr("y", by).attr("width", 225).attr("height", 120).attr("rx", 3)
    .attr("fill", "#e5e5e5").attr("fill-opacity", 0.93).attr("stroke", "#cfcfcf").attr("stroke-width", 1);
  leg.append("text").attr("x", bx + 9).attr("y", by + 15).attr("font-size", 15).attr("fill", "#222")
    .attr("textLength", 196).attr("lengthAdjust", "spacing").text(legendTitle);
  sizes.forEach((s, i) => {
    const col = i < 6 ? 0 : 1 + Math.floor((i - 6) / 5);
    const row = i < 6 ? i : (i - 6) % 5;
    const hx = bx + 5 + col * 58.5, hy = by + 28 + row * 16.3;
    leg.append("line").attr("x1", hx).attr("x2", hx + 14).attr("y1", hy).attr("y2", hy)
      .attr("stroke", color(i)).attr("stroke-width", 2.6).attr("stroke-opacity", 0.85);
    leg.append("text").attr("x", hx + 22).attr("y", hy + 4.8).attr("font-size", 14.5).attr("fill", "#222").text(s);
  });
});
</script>
</body></html>
